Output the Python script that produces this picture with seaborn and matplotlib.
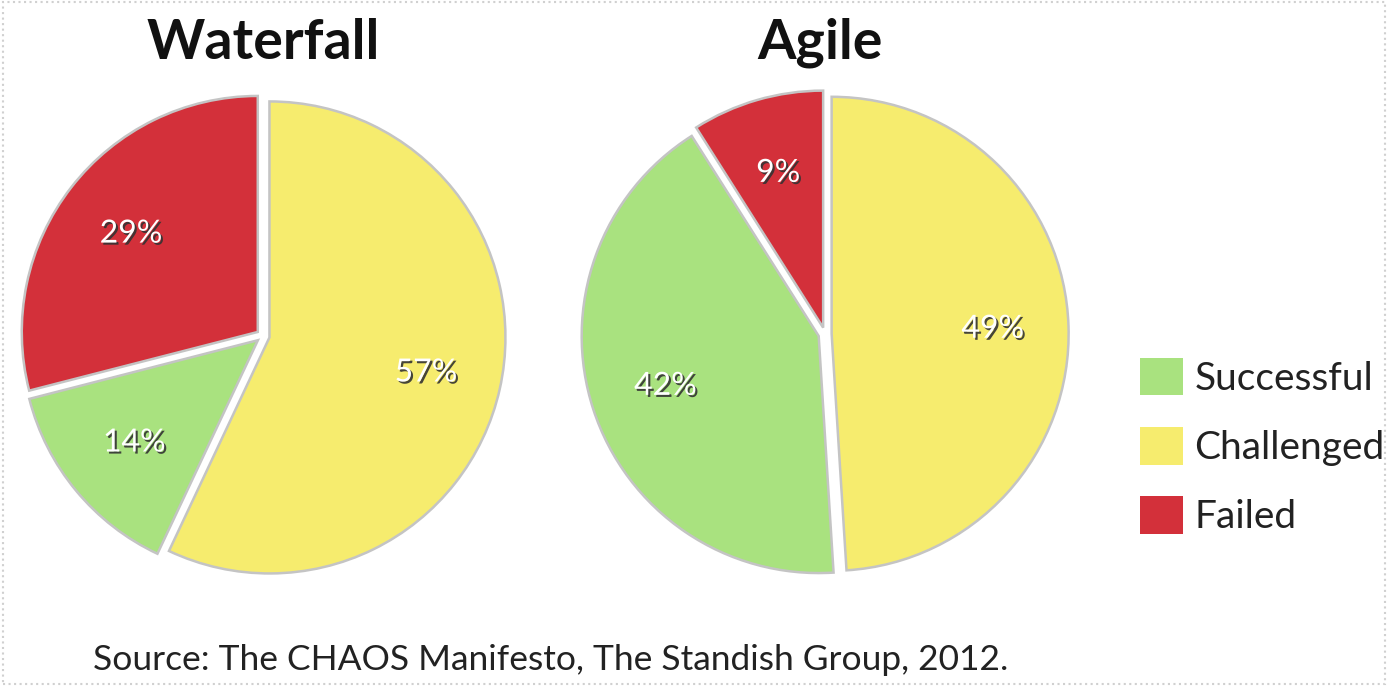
import matplotlib
matplotlib.use("Agg")
import matplotlib.pyplot as plt
import matplotlib.patheffects as pe
from matplotlib.patches import Rectangle, Patch
import seaborn as sns

# ---- data ----
categories = ["Challenged", "Successful", "Failed"]
waterfall_values = [57, 14, 29]
agile_values = [49, 42, 9]
titles = ["Waterfall", "Agile"]
legend_order = ["Successful", "Challenged", "Failed"]
source_text = "Source: The CHAOS Manifesto, The Standish Group, 2012."

sns.set_theme(style="white")
plt.rcParams["font.family"] = ["Lato", "DejaVu Sans"]

color_map = {"Successful": "#A9E27F", "Challenged": "#F6EC6E", "Failed": "#D3303A"}
colors = [color_map[c] for c in categories]

W, H = 1388, 686
fig = plt.figure(figsize=(W / 100, H / 100), dpi=100)
fig.patch.set_facecolor("white")

def add_pie(cx, cy, r, values, title, tx, ty):
    half = r * 1.08
    ax = fig.add_axes([(cx - half) / W, 1 - (cy + half) / H, 2 * half / W, 2 * half / H])
    wedges, texts, autotexts = ax.pie(
        values, colors=colors, startangle=90, counterclock=False,
        explode=[0.028] * len(values), autopct="%d%%", pctdistance=0.68,
        wedgeprops=dict(edgecolor="#c4c4c4", linewidth=1.8),
        textprops=dict(color="white", fontsize=23),
    )
    for t in autotexts:
        t.set_path_effects([pe.withSimplePatchShadow(offset=(1.5, -1.5), shadow_rgbFace="#333333", alpha=0.9)])
    ax.set_xlim(-1.08, 1.08)
    ax.set_ylim(-1.08, 1.08)
    ax.set_aspect("equal")
    ax.axis("off")
    fig.text(tx / W, 1 - ty / H, title, ha="center", va="center", fontsize=40,
             fontweight="bold", color="#111111")
    return wedges

add_pie(263, 336, 236, waterfall_values, titles[0], 263, 43)
add_pie(825, 334, 237, agile_values, titles[1], 820, 43)

handles = [Patch(facecolor=color_map[c], edgecolor="none") for c in legend_order]
fig.legend(handles, legend_order, loc="upper left", bbox_to_anchor=(1140 / W, 1 - 358 / H),
           frameon=False, fontsize=28, handlelength=1.1, handleheight=1.1,
           labelspacing=0.78, handletextpad=0.3, borderaxespad=0, borderpad=0,
           labelcolor="#222222")

fig.text(93 / W, 1 - 660 / H, source_text, ha="left", va="center", fontsize=25.5, color="#222222")

fig.patches.append(Rectangle((0.002, 0.003), 0.996, 0.994, transform=fig.transFigure,
                             fill=False, edgecolor="#d0d0d0", linestyle=":", linewidth=1.5))

fig.savefig("out.png", dpi=100)
